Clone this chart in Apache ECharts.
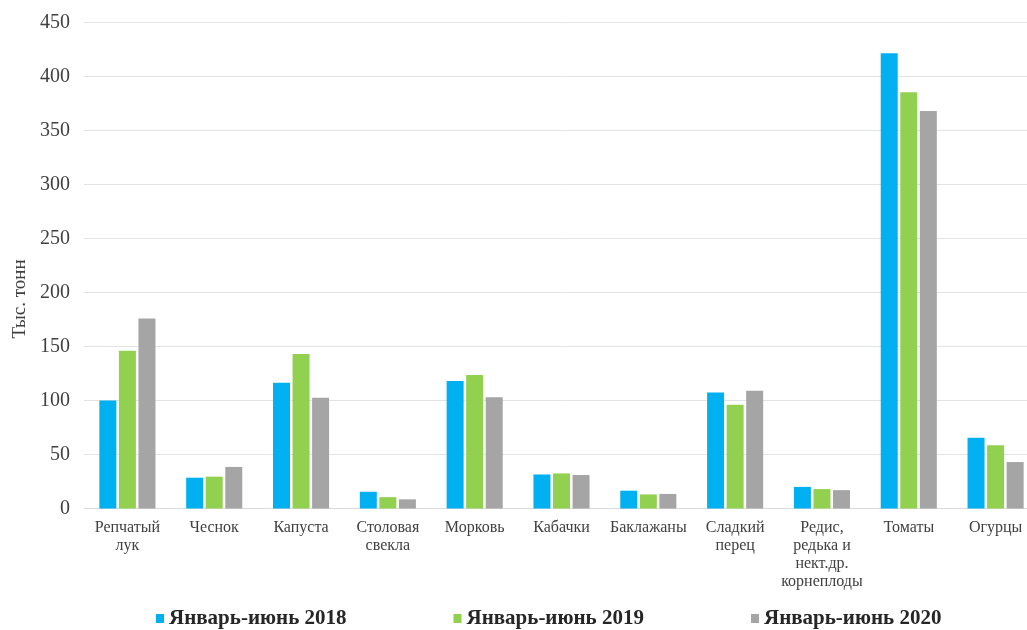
<!DOCTYPE html>
<html>
<head>
<meta charset="utf-8">
<script src="https://cdn.jsdelivr.net/npm/echarts@6/dist/echarts.min.js"></script>
<style>
  html, body { margin: 0; padding: 0; background: #ffffff; overflow: hidden; }
  /* the plot area continues slightly past the visible right border */
  #chart { width: 1039px; height: 630px; }
</style>
</head>
<body>
<div id="chart"></div>
<script>
// Овощи: производство за январь–июнь, тыс. тонн
const categories = [
  'Репчатый\nлук', 'Чеснок', 'Капуста', 'Столовая\nсвекла', 'Морковь',
  'Кабачки', 'Баклажаны', 'Сладкий\nперец', 'Редис,\nредька и\nнект.др.\nкорнеплоды',
  'Томаты', 'Огурцы'
];
const seriesNames = ['Январь-июнь 2018', 'Январь-июнь 2019', 'Январь-июнь 2020'];
const values2018 = [100, 28.5, 116.5, 15.5, 118, 31.5, 16.5, 107.5, 20, 421.5, 65.5];
const values2019 = [146, 29.5, 143, 10.5, 123.5, 32.5, 13, 96, 18, 385.5, 58.5];
const values2020 = [176, 38.5, 102.5, 8.5, 103, 31, 13.5, 109, 17, 368, 43];
const yTicks = { min: 0, max: 450, interval: 50 };
const yTitle = 'Тыс. тонн';

const colors = ['#00b0f0', '#92d050', '#a5a5a5'];
const serif = '"Liberation Serif", "DejaVu Serif", serif';

const chart = echarts.init(document.getElementById('chart'), null, { renderer: 'canvas' });

const makeSeries = (name, data, color) => ({
  name: name,
  type: 'bar',
  data: data,
  barWidth: 17,
  barGap: '15%',
  itemStyle: { color: color },
  emphasis: { disabled: true }
});

chart.setOption({
  animation: false,
  backgroundColor: '#ffffff',
  textStyle: { fontFamily: serif },
  grid: { left: 84, top: 22.5, right: 0, bottom: 121.5, containLabel: false },
  legend: {
    top: 608,
    left: 156,
    padding: 0,
    itemWidth: 8,
    itemHeight: 9,
    itemGap: 107,
    icon: 'rect',
    textStyle: { fontFamily: serif, fontSize: 21, fontWeight: 'bold', color: '#262626' },
    data: seriesNames
  },
  graphic: [{
    type: 'text',
    x: 20,
    y: 299,
    rotation: Math.PI / 2,
    style: {
      text: yTitle,
      fontFamily: serif,
      fontSize: 19,
      fill: '#404040',
      align: 'center',
      verticalAlign: 'middle'
    }
  }],
  xAxis: {
    type: 'category',
    data: categories,
    axisLine: { show: true, lineStyle: { color: '#d9d9d9', width: 1 } },
    axisTick: { show: false },
    axisLabel: {
      interval: 0,
      margin: 10,
      fontFamily: serif,
      fontSize: 16,
      lineHeight: 18,
      color: '#404040'
    }
  },
  yAxis: {
    type: 'value',
    min: yTicks.min,
    max: yTicks.max,
    interval: yTicks.interval,
    axisLine: { show: false },
    axisTick: { show: false },
    splitLine: { lineStyle: { color: '#e3e3e3', width: 1 } },
    axisLabel: { margin: 14, fontFamily: serif, fontSize: 20, color: '#404040' }
  },
  series: [
    makeSeries(seriesNames[0], values2018, colors[0]),
    makeSeries(seriesNames[1], values2019, colors[1]),
    makeSeries(seriesNames[2], values2020, colors[2])
  ]
});
</script>
</body>
</html>
